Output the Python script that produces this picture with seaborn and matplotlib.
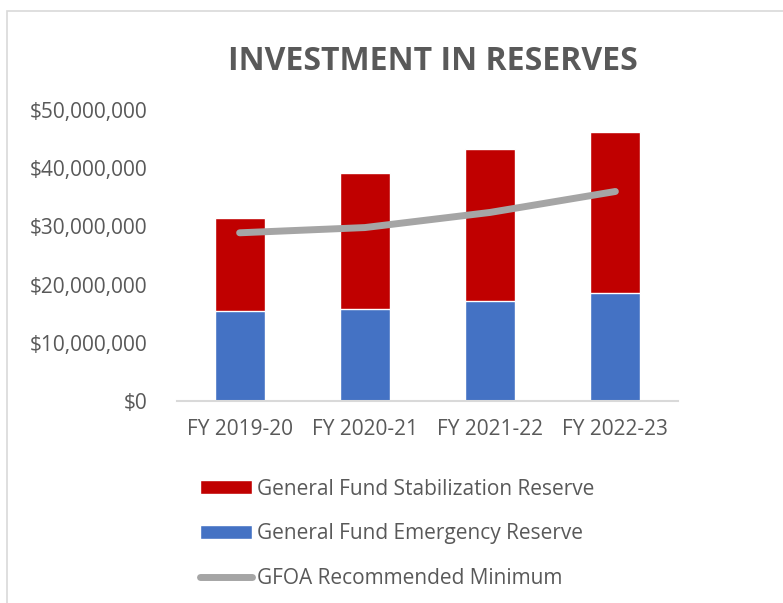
import numpy as np
import pandas as pd
import seaborn as sns
import matplotlib.pyplot as plt
from matplotlib.patches import Rectangle, Patch
from matplotlib.lines import Line2D
from matplotlib.ticker import FuncFormatter

# values (dollars)
years = ['FY 2019-20', 'FY 2020-21', 'FY 2021-22', 'FY 2022-23']
emergency = [15_500_000, 15_800_000, 17_150_000, 18_600_000]
stabilization = [15_900_000, 23_400_000, 26_150_000, 27_700_000]
gfoa_min = [28_900_000, 29_800_000, 32_400_000, 36_000_000]

RED = '#C00000'
BLUE = '#4472C4'
GRAY = '#A5A5A5'
TEXT = '#595959'

sns.set_style('white')
plt.rcParams['font.family'] = ['Open Sans', 'DejaVu Sans']

df = pd.DataFrame({'year': years, 'emergency': emergency,
                   'stabilization': stabilization, 'gfoa': gfoa_min})
df['total'] = df['emergency'] + df['stabilization']

fig = plt.figure(figsize=(7.83, 6.03), dpi=100)
ax = fig.add_axes([177 / 783, 202 / 603, 501 / 783, 291 / 603])

# stacked bars: draw the totals in red, then the emergency part in blue on top
sns.barplot(data=df, x='year', y='total', color=RED, width=0.4,
            saturation=1, ax=ax)
sns.barplot(data=df, x='year', y='emergency', color=BLUE, width=0.4,
            saturation=1, ax=ax)
sns.lineplot(x=np.arange(len(years)), y=df['gfoa'], color=GRAY, lw=5,
             solid_capstyle='round', ax=ax)

ax.set_ylim(0, 50_000_000)
ax.set_xlim(-0.5, len(years) - 0.5)
ax.set_yticks(np.arange(0, 50_000_001, 10_000_000))
ax.yaxis.set_major_formatter(FuncFormatter(lambda v, p: f'${v:,.0f}'))
ax.set_xlabel('')
ax.set_ylabel('')
ax.tick_params(axis='y', length=0, pad=21, labelsize=15, labelcolor=TEXT)
ax.tick_params(axis='x', length=0, pad=13, labelsize=15, labelcolor=TEXT)
for s in ['top', 'right', 'left']:
    ax.spines[s].set_visible(False)
ax.spines['bottom'].set_color('#D9D9D9')
ax.spines['bottom'].set_linewidth(1.5)

fig.text(433 / 783, 1 - 61 / 603, 'INVESTMENT IN RESERVES', ha='center',
         va='center', fontsize=23, fontweight='bold', color=TEXT)

# chart border
fig.patches.append(Rectangle((7 / 783, -0.1), 1.2, 1.082, transform=fig.transFigure,
                             fill=False, edgecolor='#D9D9D9', lw=1.2))

handles = [Patch(facecolor=RED), Patch(facecolor=BLUE),
           Line2D([0], [0], color=GRAY, lw=5, solid_capstyle='round')]
labels = ['General Fund Stabilization Reserve', 'General Fund Emergency Reserve',
          'GFOA Recommended Minimum']
leg = fig.legend(handles, labels, loc='upper left',
                 bbox_to_anchor=(181 / 783, 1 - 460 / 603), frameon=False,
                 fontsize=15, labelspacing=1.13, handlelength=2.5,
                 handleheight=0.65, handletextpad=0.25)
for t in leg.get_texts():
    t.set_color(TEXT)

fig.savefig('out.png', dpi=100)
